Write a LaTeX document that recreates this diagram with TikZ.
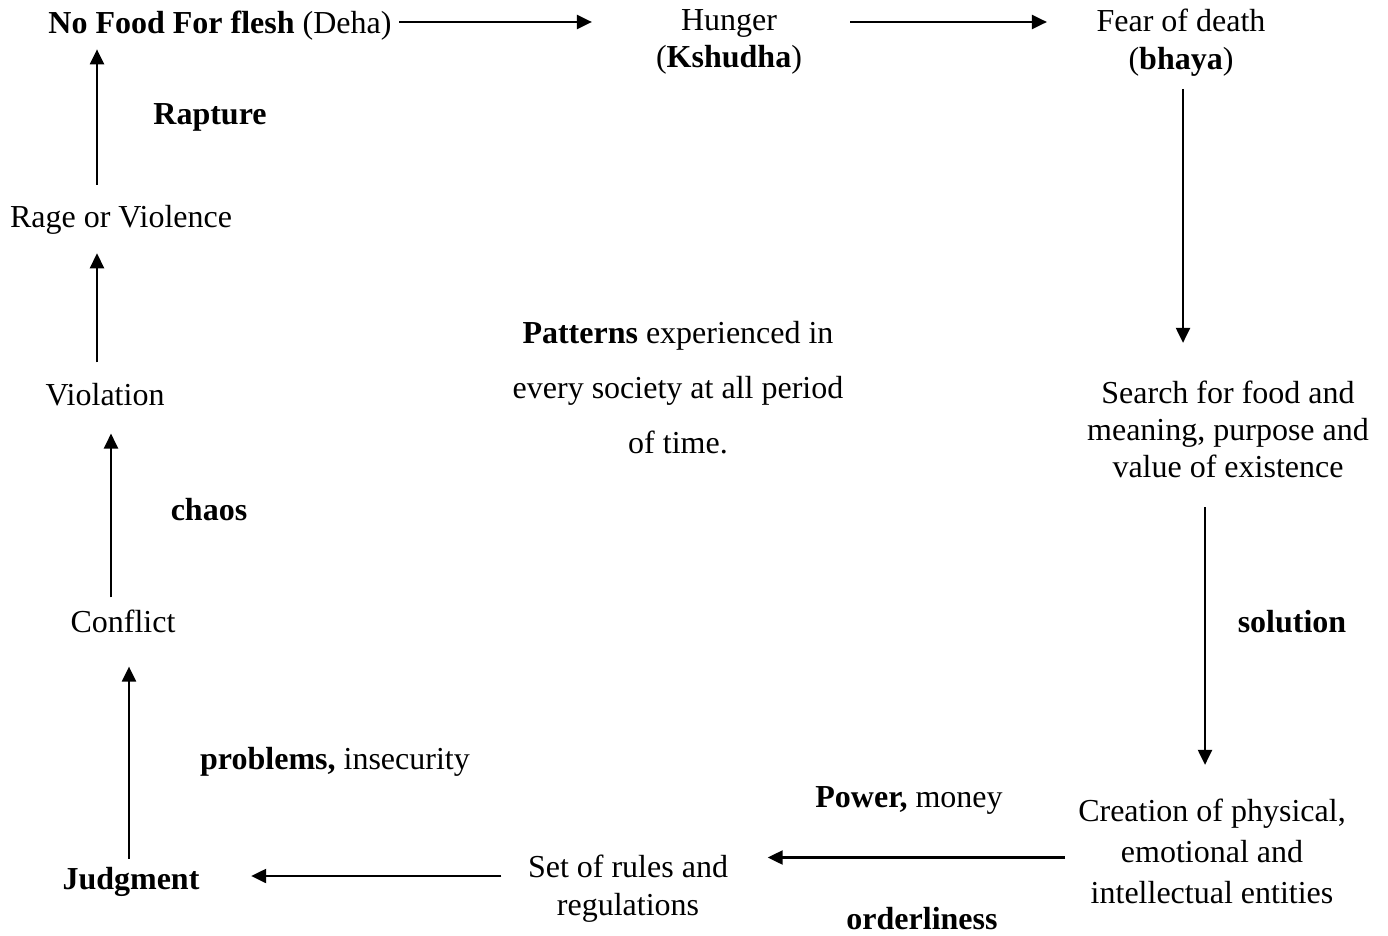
\documentclass[tikz,border=0pt]{standalone}
\usepackage{fontspec}
\setmainfont{Liberation Serif}
\usetikzlibrary{arrows.meta}
\begin{document}
\begin{tikzpicture}[x=1pt,y=-1pt,
  txt/.style={inner sep=0pt,align=center,font=\fontsize{32}{37}\selectfont},
  arr/.style={line width=2.2pt,-{Triangle[length=15pt,width=14pt]}}]
\useasboundingbox (0,0) rectangle (1388,936);
\node[txt] (deha) at (220,26) {\textbf{No Food For flesh} (Deha)};
\node[txt,font=\fontsize{32}{37}\selectfont] (hunger) at (729,42) {Hunger\\(\textbf{Kshudha})};
\node[txt,font=\fontsize{32}{38}\selectfont] (fear) at (1181,43) {Fear of death\\(\textbf{bhaya})};
\node[txt] (search) at (1228,429.5) {Search for food and\\meaning, purpose and\\value of existence};
\node[txt,font=\fontsize{32}{41}\selectfont] (creation) at (1212,851.5) {Creation of physical,\\emotional and\\intellectual entities};
\node[txt,font=\fontsize{32}{38}\selectfont] (rules) at (628,888.5) {Set of rules and\\regulations};
\node[txt] (judg) at (131,882) {\textbf{Judgment}};
\node[txt] (conflict) at (123,621) {Conflict};
\node[txt] (violation) at (105,395) {Violation};
\node[txt] (rage) at (121,220) {Rage or Violence};
\node[txt,font=\fontsize{32}{55}\selectfont] (patterns) at (678,387.5) {\textbf{Patterns} experienced in\\every society at all period\\of time.};
\node[txt] (rapture) at (210,117) {\textbf{Rapture}};
\node[txt] (chaos) at (209,510) {\textbf{chaos}};
\node[txt] (problems) at (335,762) {\textbf{problems,} insecurity};
\node[txt] (power) at (909,800) {\textbf{Power,} money};
\node[txt] (order) at (922,918.5) {\textbf{orderliness}};
\node[txt] (solution) at (1292,622) {\textbf{solution}};
% arrows
\draw[arr,shorten <=7.5pt,shorten >=64pt] ([yshift=4pt]deha.east) -- ([yshift=4pt]deha.east -| hunger.west);
\draw[arr,shorten <=48pt,shorten >=49.5pt] ([yshift=4pt]deha.east -| hunger.east) -- ([yshift=4pt]deha.east -| fear.west);
\draw[arr,shorten <=12pt,shorten >=38pt] ([xshift=2pt]fear.south) -- ([xshift=2pt]fear.south |- search.north);
\draw[arr,shorten <=29pt,shorten >=34pt] ([xshift=-7pt]creation.north |- search.south) -- ([xshift=-7pt]creation.north);
\draw[arr,shorten <=13pt,shorten >=39.5pt] ([yshift=-6pt]creation.west) -- ([yshift=-6pt]creation.west -| rules.east);
\draw[arr,shorten <=26.5pt,shorten >=51.5pt] ([yshift=6pt]rules.west |- judg.east) -- ([yshift=6pt]judg.east);
\draw[arr,shorten <=8.5pt,shorten >=34pt] ([xshift=-2pt]judg.north) -- ([xshift=-2pt]judg.north |- conflict.south);
\draw[arr,shorten <=12pt,shorten >=27pt] ([xshift=-12pt]conflict.north) -- ([xshift=-12pt]conflict.north |- violation.south);
\draw[arr,shorten <=21pt,shorten >=18.5pt] ([xshift=-8pt]violation.north) -- ([xshift=-8pt]violation.north |- rage.south);
\draw[arr,shorten <=20.5pt,shorten >=8.5pt] ([xshift=-24pt]rage.north) -- ([xshift=-24pt]rage.north |- deha.south);
\end{tikzpicture}
\end{document}
